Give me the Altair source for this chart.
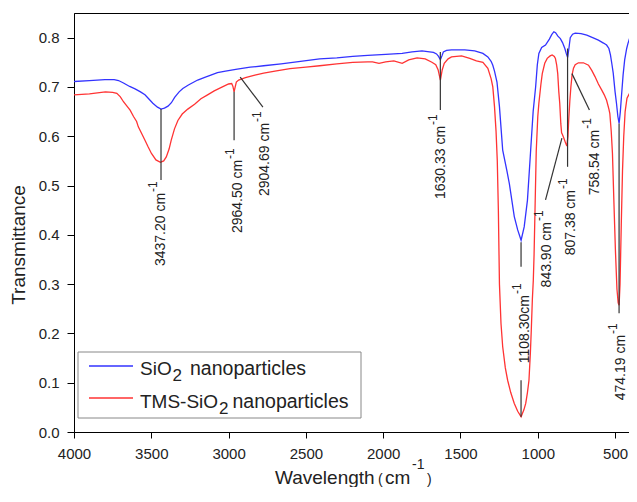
import altair as alt
import pandas as pd

FONT = "Liberation Sans"

# ---- spectra (wavenumber cm-1, transmittance) ----
blue_points = [
    (4000, 0.711), (3900, 0.713), (3800, 0.715), (3740, 0.715), (3712, 0.713), (3680, 0.708),
    (3640, 0.701), (3605, 0.696), (3570, 0.690), (3541, 0.684), (3520, 0.677), (3490, 0.667),
    (3460, 0.659), (3437, 0.655), (3415, 0.657), (3392, 0.661), (3370, 0.668), (3349, 0.679),
    (3320, 0.690), (3296, 0.697), (3260, 0.704), (3230, 0.709), (3200, 0.714), (3150, 0.720),
    (3115, 0.724), (3072, 0.729), (3020, 0.732), (2944, 0.736), (2860, 0.740), (2773, 0.743),
    (2660, 0.747), (2560, 0.751), (2411, 0.757), (2300, 0.759), (2197, 0.762), (2100, 0.764),
    (1984, 0.766), (1877, 0.768), (1813, 0.771), (1749, 0.773), (1700, 0.771), (1675, 0.770),
    (1655, 0.767), (1642, 0.762), (1630, 0.755), (1620, 0.763), (1611, 0.771), (1590, 0.774),
    (1558, 0.775), (1472, 0.775), (1408, 0.773), (1355, 0.768), (1323, 0.761), (1302, 0.752),
    (1291, 0.744), (1280, 0.732), (1264, 0.710), (1248, 0.660), (1227, 0.572), (1200, 0.530),
    (1184, 0.504), (1152, 0.437), (1130, 0.410), (1108, 0.389), (1088, 0.416), (1067, 0.470),
    (1046, 0.572), (1030, 0.650), (1014, 0.700), (1003, 0.745), (993, 0.768), (975, 0.780),
    (950, 0.785), (925, 0.797), (910, 0.806), (896, 0.812), (885, 0.810), (870, 0.803),
    (854, 0.798), (840, 0.790), (825, 0.778), (815, 0.767), (807, 0.760), (800, 0.775),
    (790, 0.800), (775, 0.807), (758, 0.809), (720, 0.808), (683, 0.805), (645, 0.800),
    (608, 0.795), (575, 0.789), (555, 0.785), (540, 0.778), (530, 0.765), (520, 0.745),
    (512, 0.728), (500, 0.690), (491, 0.667), (482, 0.640), (474, 0.626), (466, 0.650),
    (459, 0.680), (448, 0.725), (438, 0.755), (425, 0.778), (417, 0.788), (405, 0.800),
]
red_points = [
    (4000, 0.684), (3900, 0.686), (3797, 0.690), (3750, 0.689), (3723, 0.687), (3700, 0.680),
    (3680, 0.670), (3660, 0.662), (3637, 0.653), (3615, 0.640), (3595, 0.630), (3584, 0.619),
    (3560, 0.604), (3541, 0.592), (3520, 0.578), (3499, 0.565), (3470, 0.552), (3441, 0.547),
    (3420, 0.550), (3403, 0.558), (3385, 0.574), (3371, 0.592), (3350, 0.615), (3328, 0.632),
    (3300, 0.645), (3264, 0.655), (3220, 0.665), (3179, 0.676), (3136, 0.684), (3093, 0.692),
    (3040, 0.700), (3000, 0.706), (2980, 0.707), (2972, 0.701), (2964.5, 0.690), (2958, 0.699),
    (2950, 0.710), (2935, 0.714), (2891, 0.719), (2830, 0.724), (2773, 0.728), (2700, 0.732),
    (2603, 0.737), (2500, 0.740), (2411, 0.743), (2300, 0.747), (2197, 0.750), (2100, 0.751),
    (2069, 0.751), (2027, 0.748), (1984, 0.751), (1931, 0.753), (1877, 0.748), (1835, 0.755),
    (1781, 0.759), (1728, 0.757), (1685, 0.750), (1660, 0.745), (1645, 0.735), (1630, 0.714),
    (1618, 0.735), (1605, 0.748), (1580, 0.757), (1558, 0.761), (1493, 0.763), (1440, 0.758),
    (1397, 0.753), (1355, 0.750), (1323, 0.738), (1302, 0.717), (1291, 0.700), (1280, 0.660),
    (1270, 0.610), (1262, 0.550), (1255, 0.450), (1248, 0.300), (1238, 0.220), (1227, 0.173),
    (1210, 0.130), (1195, 0.105), (1175, 0.080), (1152, 0.058), (1130, 0.042), (1108, 0.031),
    (1090, 0.045), (1078, 0.058), (1067, 0.080), (1057, 0.105), (1048, 0.160), (1042, 0.207),
    (1035, 0.270), (1029, 0.308), (1024, 0.360), (1018, 0.450), (1010, 0.570), (1000, 0.640),
    (993, 0.667), (980, 0.705), (971, 0.727), (955, 0.748), (939, 0.758), (920, 0.763),
    (907, 0.765), (893, 0.762), (886, 0.758), (878, 0.745), (871, 0.727), (864, 0.690),
    (858, 0.667), (851, 0.625), (846, 0.607), (840, 0.603), (830, 0.595), (820, 0.586),
    (812, 0.580), (805, 0.600), (800, 0.633), (793, 0.670), (786, 0.700), (778, 0.725),
    (769, 0.738), (758, 0.745), (737, 0.749), (705, 0.749), (672, 0.744), (650, 0.733),
    (630, 0.721), (608, 0.706), (587, 0.694), (570, 0.684), (555, 0.673), (540, 0.655),
    (534, 0.646), (525, 0.610), (517, 0.565), (508, 0.470), (498, 0.370), (488, 0.290),
    (480, 0.262), (474, 0.257), (468, 0.300), (460, 0.420), (452, 0.530), (444, 0.600),
    (435, 0.650), (423, 0.677), (410, 0.685), (400, 0.690),
]

series_names = ["SiO", "TMS-SiO"]
series_sub = "2"
series_tail = "nanoparticles"
series_colors = ["#3333ff", "#ff3333"]

# ---- peak annotations ----
ann_label = ["3437.20 cm", "2964.50 cm", "2904.69 cm", "1630.33 cm", "1108.30cm",
             "843.90 cm", "807.38 cm", "758.54 cm", "474.19 cm"]
ann_wn = [3437, 2938, 2763, 1623, 1085, 941, 788, 630, 462]
ann_t = [0.485, 0.552, 0.627, 0.621, 0.278, 0.426, 0.491, 0.613, 0.197]

seg_wn1 = [3437.2, 2964.5, 2925, 1630.33, 1108.3, 1108.3, 843.9, 807.38, 779, 474.19]
seg_t1 = [0.655, 0.690, 0.720, 0.771, 0.385, 0.105, 0.596, 0.778, 0.727, 0.626]
seg_wn2 = [3437.2, 2964.5, 2778, 1630.33, 1108.3, 1108.3, 950, 807.38, 666, 474.19]
seg_t2 = [0.511, 0.592, 0.659, 0.653, 0.335, 0.031, 0.471, 0.538, 0.653, 0.241]

x_ticks = list(range(4000, 499, -250))
y_ticks = [round(i * 0.05, 2) for i in range(0, 18)]

W, H = 555, 419

blue_df = pd.DataFrame(blue_points, columns=["wn", "t"])
red_df = pd.DataFrame(red_points, columns=["wn", "t"])
ann_df = pd.DataFrame({"label": ann_label, "wn": ann_wn, "t": ann_t})
seg_df = pd.DataFrame({"wn": seg_wn1, "t": seg_t1, "wn2": seg_wn2, "t2": seg_t2})

xscale = alt.Scale(domain=[410, 4000], reverse=True, nice=False, zero=False)
yscale = alt.Scale(domain=[0, 0.85], nice=False, zero=False)

xaxis = alt.Axis(
    values=x_ticks, title=None, grid=False, format="d",
    labelExpr="datum.value % 500 === 0 ? datum.label : ''",
    tickSize={"condition": {"test": "datum.value % 500 === 0", "value": 6}, "value": 3},
    labelPadding=8, labelFontSize=15, labelFont=FONT, labelColor="#222",
    domainColor="black", tickColor="black", labelFlush=False, labelOverlap=False,
)
yaxis = alt.Axis(
    values=y_ticks, title=None, grid=False, format=".1f",
    labelExpr="abs(datum.value * 10 - round(datum.value * 10)) < 0.001 ? datum.label : ''",
    tickSize={"condition": {"test": "abs(datum.value * 10 - round(datum.value * 10)) < 0.001",
                            "value": 7}, "value": 4},
    labelPadding=8, labelFontSize=15, labelFont=FONT, labelColor="#222",
    domainColor="black", tickColor="black", labelOverlap=False,
)

X = alt.X("wn:Q", scale=xscale, axis=xaxis)
Y = alt.Y("t:Q", scale=yscale, axis=yaxis)

blue = alt.Chart(blue_df).mark_line(color=series_colors[0], strokeWidth=1.3, clip=True).encode(x=X, y=Y)
red = alt.Chart(red_df).mark_line(color=series_colors[1], strokeWidth=1.3, clip=True).encode(x=X, y=Y)

segs = alt.Chart(seg_df).mark_rule(color="#333", strokeWidth=1.2).encode(
    x="wn:Q", y="t:Q", x2="wn2:Q", y2="t2:Q")

ann_main = alt.Chart(ann_df).mark_text(
    angle=270, align="right", baseline="middle", fontSize=14, font=FONT, color="#222"
).encode(x="wn:Q", y="t:Q", text="label:N")
ann_sup = alt.Chart(ann_df).mark_text(
    angle=270, align="left", baseline="middle", fontSize=12, font=FONT, color="#222", dx=1, dy=-8
).encode(x="wn:Q", y="t:Q", text=alt.value("-1"))

one = pd.DataFrame({"k": [0]})


def txt(s, x, y, size, align="left", angle=0, baseline="alphabetic"):
    return alt.Chart(one).mark_text(
        align=align, baseline=baseline, fontSize=size, font=FONT, color="#222", angle=angle
    ).encode(x=alt.value(x), y=alt.value(y), text=alt.value(s))


legend_box = alt.Chart(one).mark_rect(fill="white", stroke="#888", strokeWidth=1).encode(
    x=alt.value(4), x2=alt.value(287), y=alt.value(339), y2=alt.value(405))
leg_l1 = alt.Chart(one).mark_rule(color=series_colors[0], strokeWidth=1.3).encode(
    x=alt.value(15), x2=alt.value(59), y=alt.value(353))
leg_l2 = alt.Chart(one).mark_rule(color=series_colors[1], strokeWidth=1.3).encode(
    x=alt.value(15), x2=alt.value(59), y=alt.value(385))

legend_text = [
    txt(series_names[0], 66, 362, 19), txt(series_sub, 98.5, 368, 17), txt(series_tail, 116, 362, 19.5),
    txt(series_names[1], 66, 395, 19), txt(series_sub, 145, 401, 17), txt(series_tail, 158.5, 395, 19.5),
]

titles = [
    txt("Transmittance", -55, 232, 19, align="center", angle=270, baseline="middle"),
    txt("Wavelength", 201, 471, 19),
    txt("(", 304, 471, 14),
    txt("cm", 311, 471, 19),
    txt("-1", 338, 456, 14),
    txt(")", 353, 471, 14),
]

chart = alt.layer(
    blue, red, segs, ann_main, ann_sup, legend_box, leg_l1, leg_l2, *legend_text, *titles
).properties(
    width=W, height=H,
    autosize=alt.AutoSizeParams(type="none"),
    padding={"left": 66, "top": 5, "right": 0, "bottom": 55},
    background="white",
).configure_view(stroke="black", strokeWidth=1)

chart.save("out.html", embed_options={"renderer": "svg", "actions": False})
